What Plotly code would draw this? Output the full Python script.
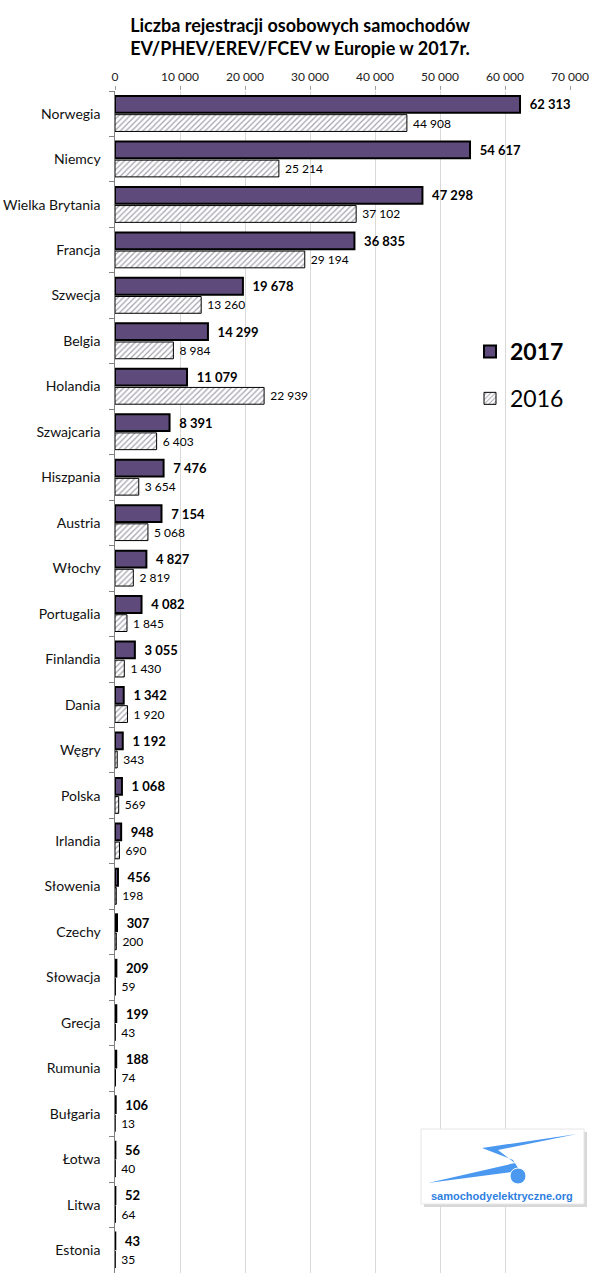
import plotly.graph_objects as go

countries = ["Norwegia", "Niemcy", "Wielka Brytania", "Francja", "Szwecja", "Belgia", "Holandia",
             "Szwajcaria", "Hiszpania", "Austria", "Włochy", "Portugalia", "Finlandia", "Dania",
             "Węgry", "Polska", "Irlandia", "Słowenia", "Czechy", "Słowacja", "Grecja", "Rumunia",
             "Bułgaria", "Łotwa", "Litwa", "Estonia"]
v2017 = [62313, 54617, 47298, 36835, 19678, 14299, 11079, 8391, 7476, 7154, 4827, 4082, 3055,
         1342, 1192, 1068, 948, 456, 307, 209, 199, 188, 106, 56, 52, 43]
v2016 = [44908, 25214, 37102, 29194, 13260, 8984, 22939, 6403, 3654, 5068, 2819, 1845, 1430,
         1920, 343, 569, 690, 198, 200, 59, 43, 74, 13, 40, 64, 35]

W, H = 600, 1285
L, R, T, B = 115, 30, 91, 12
PW, PH = W - L - R, H - T - B

def px(x):
    return (x - L) / PW

def py(y):
    return (H - B - y) / PH

FONT = "Lato"
PURPLE = "#5f4b7b"

fig = go.Figure()
fig.add_trace(go.Bar(
    y=countries, x=v2017, orientation="h", name="<b>2017</b>", legendgroup="a",
    marker=dict(color=PURPLE, line=dict(color="#000000", width=2)),
    texttemplate="  <b>%{x:,d}</b>", textposition="outside", cliponaxis=False,
    textfont=dict(family=FONT, size=13, color="#000000"),
))
fig.add_trace(go.Bar(
    y=countries, x=v2016, orientation="h", name="2016", legendgroup="b",
    marker=dict(color="#ffffff", line=dict(color="#000000", width=1),
                pattern=dict(shape="/", fgcolor="#4a4458", bgcolor="#ffffff", size=4, solidity=0.3)),
    texttemplate=" %{x:,d}", textposition="outside", cliponaxis=False,
    textfont=dict(family=FONT, size=12, color="#000000"),
))

# logo approximation
shapes = [
    dict(type="rect", xref="paper", yref="paper", x0=px(424), x1=px(587), y0=py(1207), y1=py(1132),
         fillcolor="#d8d8d8", line=dict(width=0), layer="above"),
    dict(type="rect", xref="paper", yref="paper", x0=px(421), x1=px(584), y0=py(1204), y1=py(1129),
         fillcolor="#ffffff", line=dict(color="#e6e6e6", width=1), layer="above"),
]
pts = [(577, 1134), (482, 1148), (513, 1160), (520, 1171), (428, 1183), (515, 1163), (498, 1150)]
path = "M " + " L ".join(f"{px(a)},{py(b)}" for a, b in pts) + " Z"
shapes.append(dict(type="path", xref="paper", yref="paper", path=path,
                   fillcolor="#4a98f0", line=dict(width=0), layer="above"))
shapes.append(dict(type="circle", xref="paper", yref="paper", x0=px(510), x1=px(526), y0=py(1184), y1=py(1168),
                   fillcolor="#4a98f0", line=dict(color="#ffffff", width=1), layer="above"))

fig.update_layout(
    width=W, height=H,
    margin=dict(l=L, r=R, t=T, b=B),
    paper_bgcolor="#ffffff", plot_bgcolor="#ffffff",
    separators=", ",
    barmode="group", bargap=0.18, bargroupgap=0.1,
    font=dict(family=FONT, color="#000000"),
    title=dict(text="<b>Liczba rejestracji osobowych samochodów<br>EV/PHEV/EREV/FCEV w Europie w 2017r.</b>",
               x=0.5, xref="container", xanchor="center", y=1 - 32 / H, yref="container", yanchor="middle",
               font=dict(family=FONT, size=18, color="#000000")),
    xaxis=dict(side="top", range=[0, 70000], dtick=10000, tickformat=",d", automargin=False,
               showgrid=True, gridcolor="#d9d9d9", gridwidth=1, zeroline=False,
               ticks="outside", ticklen=4, tickcolor="#a0a0a0", showline=False,
               tickfont=dict(family=FONT, size=12, color="#222222")),
    yaxis=dict(autorange="reversed", type="category", showline=True, linecolor="#808080", linewidth=1,
               ticks="outside", tickson="boundaries", ticklen=5, tickcolor="#808080", automargin=False,
               tickfont=dict(family=FONT, size=14, color="#111111"), ticksuffix="   "),
    legend=dict(x=px(470), y=py(330), xanchor="left", yanchor="top", traceorder="grouped",
                font=dict(family=FONT, size=23, color="#000000"), tracegroupgap=14,
                bgcolor="rgba(0,0,0,0)", itemwidth=30),
    shapes=shapes,
    annotations=[dict(text="<b>samochodyelektryczne.org</b>", xref="paper", yref="paper",
                      x=px(502), y=py(1196), showarrow=False, xanchor="center", yanchor="middle",
                      font=dict(family="Liberation Sans", size=11, color="#2f7fe0"))],
)

fig.write_html("out.html")
